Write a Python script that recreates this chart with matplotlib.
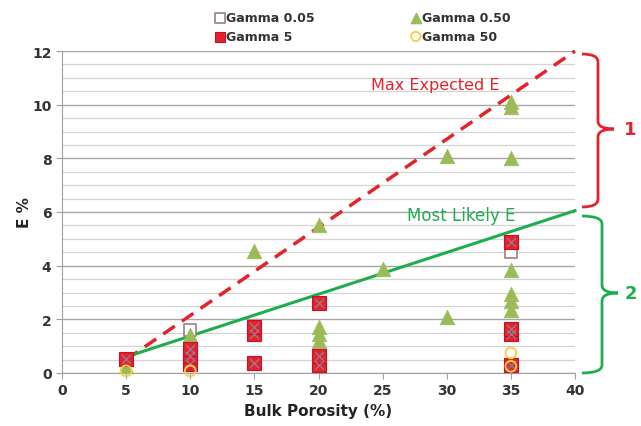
import matplotlib
matplotlib.use("Agg")
import matplotlib.pyplot as plt
from matplotlib.path import Path
from matplotlib.patches import PathPatch
from matplotlib.ticker import MultipleLocator

# ---- data ----
g005_x = [5, 10, 10, 15, 20, 35, 35]
g005_y = [0.5, 1.62, 0.6, 1.55, 2.6, 4.5, 1.5]

g5_x = [5, 10, 10, 10, 15, 15, 15, 20, 20, 20, 35, 35, 35, 35]
g5_y = [0.52, 0.35, 0.62, 0.9, 1.45, 1.72, 0.37, 2.6, 0.3, 0.65, 4.9, 1.45, 1.65, 0.3]

g050_x = [5, 10, 15, 20, 20, 20, 20, 25, 30, 30, 35, 35, 35, 35, 35, 35, 35]
g050_y = [0.25, 1.4, 4.55, 5.5, 1.2, 1.45, 1.7, 3.88, 8.08, 2.08, 10.1, 9.9, 8.0, 3.85, 2.95, 2.7, 2.35]

g50_x = [5, 10, 35, 35]
g50_y = [0.08, 0.08, 0.75, 0.25]

max_line_x = [5, 40]
max_line_y = [0.5, 12.0]
likely_line_x = [5, 40]
likely_line_y = [0.6, 6.05]

x_ticks = [0, 5, 10, 15, 20, 25, 30, 35, 40]
y_ticks = [0, 2, 4, 6, 8, 10, 12]

RED = "#e3242b"
GREEN = "#1fae4f"
OLIVE = "#9bbb59"

W, H = 641, 427
fig = plt.figure(figsize=(W / 100, H / 100), dpi=100)
ax = fig.add_axes([62 / W, 1 - 374 / H, (575 - 62) / W, (374 - 52) / H])

ax.set_xlim(0, 40)
ax.set_ylim(0, 12)
ax.set_xticks(x_ticks)
ax.set_yticks(y_ticks)
ax.yaxis.set_minor_locator(MultipleLocator(0.5))
ax.grid(axis="y", which="major", color="#a6a6a6", lw=1.0, zorder=0)
ax.grid(axis="y", which="minor", color="#d4d4d4", lw=0.9, zorder=0)
ax.tick_params(axis="y", which="minor", length=0)
ax.tick_params(axis="both", which="major", length=4, color="#a0a0a0",
               labelsize=10, labelcolor="#333333")
for lab in ax.get_xticklabels() + ax.get_yticklabels():
    lab.set_fontweight("bold")
for s in ["top", "right"]:
    ax.spines[s].set_visible(False)
for s in ["left", "bottom"]:
    ax.spines[s].set_color("#a0a0a0")
ax.set_axisbelow(True)

ax.set_xlabel("Bulk Porosity (%)", fontsize=11, fontweight="bold", color="#222222")
ax.set_ylabel("E %", fontsize=11, fontweight="bold", color="#222222", labelpad=0)

# lines
ax.plot(max_line_x, max_line_y, color=RED, lw=2.5, ls=(0, (4, 2.5)), zorder=2, clip_on=False)
ax.plot(likely_line_x, likely_line_y, color=GREEN, lw=2.2, zorder=2, clip_on=False)

# markers
ax.scatter(g005_x, g005_y, marker="s", s=85, facecolor="white", edgecolor="#a07c88",
           lw=1.2, zorder=3, clip_on=False)
ax.scatter(g050_x, g050_y, marker="^", s=110, facecolor=OLIVE, edgecolor=OLIVE,
           lw=0.5, zorder=4, clip_on=False)
ax.scatter(g5_x, g5_y, marker="s", s=110, facecolor=RED, edgecolor="#c8102e",
           lw=0.8, zorder=5, clip_on=False)
ax.scatter(g5_x, g5_y, marker="x", s=40, color="#8a8aa0", lw=0.8, zorder=6, clip_on=False)
ax.scatter(g50_x, g50_y, marker="o", s=60, facecolor="none", edgecolor="#f2d040",
           lw=1.3, zorder=6, clip_on=False)

# annotations
ax.text(24.1, 10.75, "Max Expected E", color=RED, fontsize=11.5, ha="left", va="center")
ax.text(26.9, 5.9, "Most Likely E", color=GREEN, fontsize=12, ha="left", va="center")

# legend
h1 = ax.scatter([], [], marker="s", s=45, facecolor="white", edgecolor="#a07c88", lw=1.2)
h2 = ax.scatter([], [], marker="s", s=45, facecolor=RED, edgecolor="#c8102e", lw=0.8)
h3 = ax.scatter([], [], marker="^", s=55, facecolor=OLIVE, edgecolor=OLIVE)
h4 = ax.scatter([], [], marker="o", s=45, facecolor="none", edgecolor="#f2d040", lw=1.3)
leg = fig.legend([h1, h2, h3, h4], ["Gamma 0.05", "Gamma 5", "Gamma 0.50", "Gamma 50"],
                 ncol=2, loc="center", bbox_to_anchor=(362 / W, 1 - 28 / H), frameon=False,
                 fontsize=9, handletextpad=0.0, columnspacing=7.6, labelspacing=0.45,
                 handlelength=1.0, borderaxespad=0)
for t in leg.get_texts():
    t.set_color("#333333")
    t.set_fontweight("semibold")


def brace(x0, x1, x2, ytop, ybot, ymid, color, r=8):
    def f(x, y):
        return (x / W, 1 - y / H)
    codes = [Path.MOVETO, Path.CURVE3, Path.CURVE3, Path.LINETO,
             Path.CURVE3, Path.CURVE3,
             Path.MOVETO, Path.CURVE3, Path.CURVE3, Path.LINETO,
             Path.CURVE3, Path.CURVE3]
    verts = [f(x0, ytop), f(x1, ytop), f(x1, ytop + r), f(x1, ymid - r),
             f(x1, ymid), f(x2, ymid),
             f(x2, ymid), f(x1, ymid), f(x1, ymid + r), f(x1, ybot - r),
             f(x1, ybot), f(x0, ybot)]
    p = PathPatch(Path(verts, codes), transform=fig.transFigure, fill=False,
                  edgecolor=color, lw=2.0, clip_on=False)
    fig.add_artist(p)


brace(582, 598, 614, 55, 208, 130, RED)
brace(582, 602, 618, 217, 374, 294, GREEN)
fig.text(630 / W, 1 - 130 / H, "1", color=RED, fontsize=13, fontweight="bold",
         ha="center", va="center")
fig.text(631 / W, 1 - 294 / H, "2", color=GREEN, fontsize=13, fontweight="bold",
         ha="center", va="center")

fig.savefig("out.png", dpi=100)
